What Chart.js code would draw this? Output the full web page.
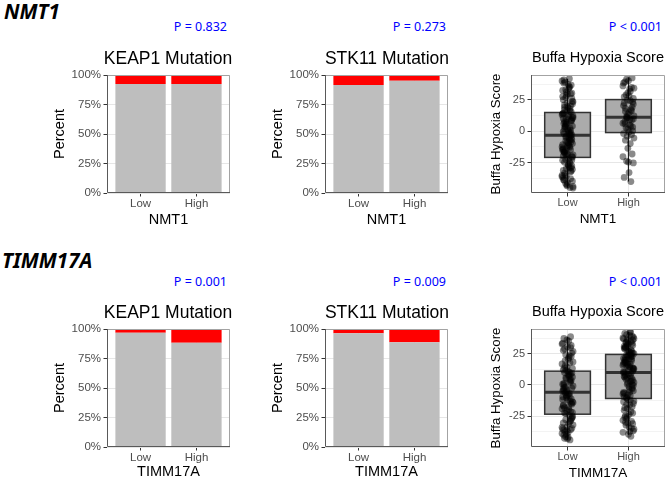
<!DOCTYPE html>
<html>
<head>
<meta charset="utf-8">
<script src="https://cdn.jsdelivr.net/npm/chart.js@4.4.0/dist/chart.umd.min.js"></script>
<style>
  body { margin: 0; background: #fff; }
  #fig { position: relative; width: 669px; height: 482px; overflow: hidden; background: #fff; }
  canvas, .txt { position: absolute; }
  .gene { font: italic bold 20.5px "Noto Sans", sans-serif; line-height: 24px; color: #000; white-space: nowrap; }
  .pval { font: 12.5px "Noto Sans", sans-serif; line-height: 16px; color: #0000ff; width: 100px; text-align: right; white-space: nowrap; }
  .ttl { font-family: "Liberation Sans", Arial, sans-serif; color: #000; width: 200px; text-align: center; white-space: nowrap; }
  .big { font-size: 17.5px; line-height: 20px; }
  .small { font-size: 14.5px; line-height: 18px; }
</style>
</head>
<body>
<div id="fig">
  <canvas id="keapNmt1"></canvas>
  <canvas id="stkNmt1"></canvas>
  <canvas id="buffaNmt1"></canvas>
  <canvas id="keapTimm"></canvas>
  <canvas id="stkTimm"></canvas>
  <canvas id="buffaTimm"></canvas>

  <div class="txt gene" style="left:4px; top:-1px">NMT1</div>
  <div class="txt gene" style="left:2px; top:248px">TIMM17A</div>

  <div class="txt pval" style="left:127px; top:19px">P = 0.832</div>
  <div class="txt pval" style="left:346px; top:19px">P = 0.273</div>
  <div class="txt pval" style="left:562px; top:19px">P &lt; 0.001</div>
  <div class="txt pval" style="left:127px; top:274px">P = 0.001</div>
  <div class="txt pval" style="left:346px; top:274px">P = 0.009</div>
  <div class="txt pval" style="left:562px; top:274px">P &lt; 0.001</div>

  <div class="txt ttl big" style="left:68px; top:48px">KEAP1 Mutation</div>
  <div class="txt ttl big" style="left:287px; top:48px">STK11 Mutation</div>
  <div class="txt ttl small" style="left:498px; top:48px">Buffa Hypoxia Score</div>
  <div class="txt ttl big" style="left:68px; top:302px">KEAP1 Mutation</div>
  <div class="txt ttl big" style="left:287px; top:302px">STK11 Mutation</div>
  <div class="txt ttl small" style="left:498px; top:302px">Buffa Hypoxia Score</div>
</div>
<script>
const groups = ['Low', 'High'];

// percent of samples carrying the mutation (Low, High)
const keap1MutNmt1 = [7.6, 7.6];
const stk11MutNmt1 = [8.5, 4.8];
const keap1MutTimm = [3.1, 11.6];
const stk11MutTimm = [3.7, 11.3];

const percentTicks = [0, 12.5, 25, 37.5, 50, 62.5, 75, 87.5, 100];
const scoreTicks = [-37.5, -25, -12.5, 0, 12.5, 25, 37.5];

// box summaries (Low, High)
const nmt1Q1 = [-20.8, -1.0];
const nmt1Median = [-3.2, 11.3];
const nmt1Q3 = [15.0, 25.3];
const nmt1WhiskLo = [-45.0, -40.0];
const nmt1WhiskHi = [42.0, 43.0];

const timmQ1 = [-23.5, -10.9];
const timmMedian = [-5.9, 10.0];
const timmQ3 = [11.0, 24.4];
const timmWhiskLo = [-44.0, -40.0];
const timmWhiskHi = [38.5, 42.5];

// horizontal jitter of the points (category units)
const jitter = [
  0.04, -0.07, 0.01, 0.08, -0.03, -0.09, 0.06, -0.01, 0.03, -0.05,
  0.09, -0.02, 0.05, -0.08, 0.00, 0.07, -0.04, 0.02, -0.06, 0.08,
  -0.01, 0.04, -0.09, 0.05, -0.03, 0.01, 0.07, -0.06, 0.02, -0.02,
  0.09, -0.05, 0.06, -0.07, 0.03, -0.01, 0.04, -0.08, 0.07, -0.03,
  0.01, -0.05, 0.08, -0.02, 0.05, -0.07, 0.03, -0.09, 0.00, 0.06,
  -0.04, 0.02, -0.08, 0.08, -0.01, 0.05, -0.06, 0.01, 0.09, -0.03,
  0.03, -0.07, 0.06, -0.02, 0.02, -0.08, 0.07, -0.05, 0.04, -0.01,
  0.08, -0.06, 0.01, -0.03, 0.05, -0.08, 0.04, -0.02, 0.07, -0.05,
  -0.06, 0.03, -0.01, 0.09, -0.04, 0.02, -0.07, 0.06, 0.00, -0.09,
  0.05, -0.03, 0.08, -0.05, 0.01, -0.08, 0.04, -0.02, 0.07, -0.06,
  0.02, -0.04, 0.06, -0.07, 0.09, -0.01, 0.03, -0.05, 0.05, -0.09,
  0.00, 0.07, -0.03, 0.04, -0.06, 0.08, -0.02, 0.01, -0.08, 0.06,
  -0.05, 0.03, -0.01, 0.07, -0.07, 0.02, 0.05, -0.04, 0.09, -0.02,
  0.04, -0.08, 0.01, 0.06, -0.03, -0.06, 0.08, 0.00, -0.05, 0.03
];

// Buffa hypoxia scores, NMT1 low / high
const nmt1LowScore = [
  -44.8, -31.2, -26.5, -39.7, -22.3, -35.1, -28.9, -42.6, -24.0, -33.4,
  -45.2, -29.7, -37.8, -23.1, -40.9, -27.6, -34.5, -21.8, -38.6, -30.3,
  -43.5, -25.4, -36.2, -32.0, -41.7, -26.9, -22.9, -39.0, -28.1, -35.8,
  -44.0, -24.7, -31.9, -37.1, -29.2,
  -18.4, -7.2, -13.9, -20.1, -4.6, -11.3, -16.7, -9.8, -3.9, -14.8,
  -19.5, -6.1, -12.4, -17.9, -8.3, -15.6, -5.2, -10.7, -20.6, -13.1,
  -3.4, -16.2, -9.1, -18.9, -7.7, -11.9, -14.3, -5.8, -19.2, -10.2,
  -15.1, -6.6, -17.3, -12.8, -8.8,
  4.2, -1.8, 11.6, 7.3, 0.9, 13.9, -2.6, 5.8, 9.4, 2.1,
  14.5, -0.7, 6.9, 12.2, 3.5, -2.1, 10.3, 8.1, 1.6, 13.1,
  -1.2, 4.9, 11.0, 7.8, 0.3, 14.1, 2.8, 9.9, -2.9, 6.2,
  12.7, 3.9, 8.6, -0.2, 10.8,
  22.4, 35.6, 17.2, 29.8, 40.1, 19.6, 26.3, 33.1, 15.9, 38.4,
  24.1, 31.2, 18.5, 27.7, 36.9, 21.0, 42.0, 16.6, 30.4, 25.2,
  34.3, 20.3, 39.2, 23.5, 28.6, 17.9, 32.6, 37.5, 15.4, 26.9,
  41.0, 21.8, 30.0, 19.1, 35.0
];
const nmt1HighScore = [
  -40.1, -36.8, -32.9, -25.2, -23.8, -20.3, -18.1, -13.6, -9.8, -7.1,
  -5.4, -3.9, -2.6, -1.8, -24.5,
  0.4, 2.8, 5.1, 7.6, 9.9, 1.7, 4.3, 6.5, 8.8, 10.6,
  -0.5, 3.4, 6.0, 9.2, 10.9,
  12.3, 15.8, 19.1, 22.6, 24.4, 13.7, 17.2, 20.5, 23.3, 11.6,
  14.9, 18.3, 21.7, 24.9, 16.4,
  27.5, 31.8, 36.2, 40.4, 42.6, 29.1, 33.7, 38.5, 26.2, 30.6,
  35.0, 39.3, 28.3, 34.4, 41.5
];

// Buffa hypoxia scores, TIMM17A low / high
const timmLowScore = [
  -44.1, -30.5, -38.2, -25.9, -41.6, -34.0, -27.3, -36.7, -24.4, -42.8,
  -32.1, -39.5, -28.8, -35.3, -43.2, -26.6, -37.4, -31.0, -40.3, -24.9,
  -33.6, -29.5, -38.9, -35.9, -27.9, -42.0, -34.8, -36.1,
  -19.8, -8.4, -14.1, -22.5, -11.2, -17.0, -6.9, -20.7, -12.9, -9.6,
  -15.5, -23.0, -7.5, -18.2, -13.6, -10.3, -21.4, -16.3, -8.9, -19.1,
  -12.2, -14.8, -6.4, -17.7, -11.8, -22.1, -9.2,
  2.1, -4.7, 8.3, -0.9, 5.6, 10.2, -3.2, 3.8, -5.5, 7.1,
  0.5, 9.4, -2.1, 4.4, -4.0, 6.3, 1.2, 10.7, -1.6, 8.8,
  -5.0, 3.0, 5.1, -2.7, 9.9, 0.0, 7.7,
  14.2, 26.8, 19.5, 35.1, 12.1, 22.7, 30.4, 16.8, 38.6, 24.1,
  13.3, 28.9, 20.6, 33.4, 17.7, 11.7, 25.5, 37.2, 21.9, 15.4,
  31.6, 27.7, 18.4, 36.0, 23.2, 13.9, 29.8, 32.7
];
const timmHighScore = [
  -41.2, -20.4, -33.8, -14.9, -27.1, -38.0, -17.6, -30.6, -12.3, -24.8,
  -35.5, -19.0, -29.2, -13.5, -39.6, -22.6, -32.3, -16.1, -26.0, -36.8,
  -11.8, -21.5, -28.4, -34.6, -15.6, -23.7, -31.1, -18.3, -37.3, -25.4,
  -13.0, -30.0,
  -3.4, 6.8, -8.7, 1.5, 9.2, -6.1, 3.9, -10.2, -1.2, 7.7,
  -4.8, 0.6, 5.3, -9.5, 2.7, -7.3, 8.5, -2.3, 4.6, -5.7,
  9.7, -0.4, -8.1, 3.2, 6.1, -3.9, 1.9, -10.6, 7.2, -6.6,
  0.1, 5.8,
  14.6, 21.3, 11.2, 18.7, 23.9, 16.0, 12.5, 20.1, 24.2, 15.3,
  19.4, 10.6, 22.5, 17.2, 13.7, 21.8, 10.3, 16.6, 23.1, 12.9,
  19.9, 14.1, 18.1, 22.9, 11.7, 15.8, 20.7, 24.0, 13.3, 17.8,
  21.0, 16.9,
  28.1, 36.4, 31.7, 41.3, 26.2, 33.9, 39.0, 29.5, 25.1, 35.2,
  42.8, 30.3, 27.4, 37.6, 32.8, 25.7, 40.2, 34.5, 28.8, 38.3,
  31.0, 26.8, 36.9, 33.1, 29.9, 42.1, 27.0, 35.8, 30.8, 39.7,
  25.4, 34.0, 37.0, 32.2
];

Chart.defaults.font.family = "'Liberation Sans', Arial, sans-serif";
Chart.defaults.color = '#4d4d4d';
Chart.defaults.animation = false;
Chart.defaults.plugins.legend.display = false;
Chart.defaults.plugins.tooltip.enabled = false;

// panel border, drawn over the data like ggplot does
const frame = {
  id: 'frame',
  afterDatasetsDraw(chart) {
    const { ctx, chartArea: a } = chart;
    ctx.save();
    ctx.lineWidth = 1;
    ctx.strokeStyle = '#a3a3a3';
    ctx.beginPath();
    ctx.moveTo(a.left, a.top + 0.5);
    ctx.lineTo(a.right - 0.5, a.top + 0.5);
    ctx.lineTo(a.right - 0.5, a.bottom);
    ctx.stroke();
    ctx.strokeStyle = '#595959';
    ctx.beginPath();
    ctx.moveTo(a.left + 0.5, a.top);
    ctx.lineTo(a.left + 0.5, a.bottom - 0.5);
    ctx.lineTo(a.right, a.bottom - 0.5);
    ctx.stroke();
    ctx.restore();
  }
};

// box + whiskers behind the jittered points
const boxes = {
  id: 'boxes',
  beforeDatasetsDraw(chart, args, o) {
    if (!o.q1) return;
    const { ctx, scales: { x, y } } = chart;
    ctx.save();
    o.q1.forEach((q1, i) => {
      const c = x.getPixelForValue(i + 1);
      const hw = x.getPixelForValue(i + 1.375) - c;
      const y1 = y.getPixelForValue(q1);
      const y3 = y.getPixelForValue(o.q3[i]);
      const ym = y.getPixelForValue(o.median[i]);
      ctx.strokeStyle = '#222';
      ctx.lineWidth = 1.2;
      ctx.beginPath();
      ctx.moveTo(c, y.getPixelForValue(o.hi[i]));
      ctx.lineTo(c, y3);
      ctx.moveTo(c, y1);
      ctx.lineTo(c, y.getPixelForValue(o.lo[i]));
      ctx.stroke();
      ctx.fillStyle = '#ababab';
      ctx.fillRect(c - hw, y3, 2 * hw, y1 - y3);
      ctx.strokeStyle = '#333';
      ctx.lineWidth = 1.5;
      ctx.strokeRect(c - hw, y3, 2 * hw, y1 - y3);
      ctx.lineWidth = 3;
      ctx.beginPath();
      ctx.moveTo(c - hw, ym);
      ctx.lineTo(c + hw, ym);
      ctx.stroke();
    });
    ctx.restore();
  }
};

const isMajor = ctx => ctx.tick && ctx.tick.value % 25 === 0;
const gridColor = ctx => (isMajor(ctx) ? '#e6e6e6' : '#f3f3f3');
const tickColor = ctx => (isMajor(ctx) ? '#333' : 'rgba(0,0,0,0)');

function groupAxis(title, titleSize, tickSize, height) {
  return {
    type: 'linear', min: 0.4, max: 2.6, offset: false, stacked: true,
    afterBuildTicks: s => { s.ticks = groups.map((g, i) => ({ value: i + 1 })); },
    afterFit: s => { s.height = height; },
    grid: { offset: false, color: '#ebebeb', tickColor: '#333', tickLength: 3.5 },
    border: { display: false },
    ticks: { padding: 0, font: { size: tickSize }, callback: (v, i) => groups[i] },
    title: { display: true, text: title, color: '#000', font: { size: titleSize }, padding: 0 }
  };
}

function place(id, left, top, width, height) {
  const c = document.getElementById(id);
  c.width = width;
  c.height = height;
  c.style.left = left + 'px';
  c.style.top = top + 'px';
  return c;
}

function mutationPanel(id, left, top, height, xHeight, gene, mut) {
  new Chart(place(id, left, top, 183, height), {
    type: 'bar',
    data: {
      datasets: [
        { label: 'Wild type', data: mut.map((m, i) => ({ x: i + 1, y: 100 - m })), backgroundColor: '#bebebe' },
        { label: 'Mutant', data: mut.map((m, i) => ({ x: i + 1, y: m })), backgroundColor: '#ff0000' }
      ]
    },
    options: {
      responsive: false,
      layout: { padding: { top: 12, right: 4, bottom: 0, left: 0 } },
      datasets: { bar: { barPercentage: 1, categoryPercentage: 0.9 } },
      scales: {
        x: groupAxis(gene, 14.5, 11.5, xHeight),
        y: {
          min: 0, max: 100, stacked: true,
          afterBuildTicks: s => { s.ticks = percentTicks.map(v => ({ value: v })); },
          afterFit: s => { s.width = 56; },
          grid: { color: gridColor, tickColor: tickColor, tickLength: 3.5 },
          border: { display: false },
          ticks: { padding: 2.5, font: { size: 11.5 }, callback: v => (v % 25 === 0 ? v + '%' : '') },
          title: { display: true, text: 'Percent', color: '#000', font: { size: 14.5 }, padding: 0 }
        }
      }
    },
    plugins: [frame]
  });
}

function scorePanel(id, top, height, xHeight, gene, low, high, stats, yMin, yMax) {
  const pts = (arr, g) => arr.map((v, i) => ({ x: g + jitter[i % jitter.length], y: v }));
  new Chart(place(id, 488, top, 181, height), {
    type: 'scatter',
    data: {
      datasets: [
        { label: 'Low', data: pts(low, 1) },
        { label: 'High', data: pts(high, 2) }
      ]
    },
    options: {
      responsive: false,
      layout: { padding: { top: 12, right: 4, bottom: 0, left: 0 } },
      elements: { point: { radius: 3.4, borderWidth: 0, backgroundColor: 'rgba(0,0,0,0.46)' } },
      plugins: { boxes: stats },
      scales: {
        x: groupAxis(gene, 13.5, 11, xHeight),
        y: {
          min: yMin, max: yMax,
          afterBuildTicks: s => { s.ticks = scoreTicks.map(v => ({ value: v })); },
          afterFit: s => { s.width = 43; },
          grid: { color: gridColor, tickColor: tickColor, tickLength: 3.5 },
          border: { display: false },
          ticks: { padding: 2.5, font: { size: 11 }, callback: v => (v % 25 === 0 ? String(v) : '') },
          title: { display: true, text: 'Buffa Hypoxia Score', color: '#000', font: { size: 13.3 }, padding: 0 }
        }
      }
    },
    plugins: [boxes, frame]
  });
}

mutationPanel('keapNmt1', 51, 63, 166, 36, 'NMT1', keap1MutNmt1);
mutationPanel('stkNmt1', 269, 63, 166, 36, 'NMT1', stk11MutNmt1);
scorePanel('buffaNmt1', 63, 164, 34, 'NMT1', nmt1LowScore, nmt1HighScore,
  { q1: nmt1Q1, median: nmt1Median, q3: nmt1Q3, lo: nmt1WhiskLo, hi: nmt1WhiskHi }, -49.2, 44.9);

mutationPanel('keapTimm', 51, 317, 164, 34, 'TIMM17A', keap1MutTimm);
mutationPanel('stkTimm', 269, 317, 164, 34, 'TIMM17A', stk11MutTimm);
scorePanel('buffaTimm', 317, 164, 34, 'TIMM17A', timmLowScore, timmHighScore,
  { q1: timmQ1, median: timmMedian, q3: timmQ3, lo: timmWhiskLo, hi: timmWhiskHi }, -49.8, 44.8);
</script>
</body>
</html>
